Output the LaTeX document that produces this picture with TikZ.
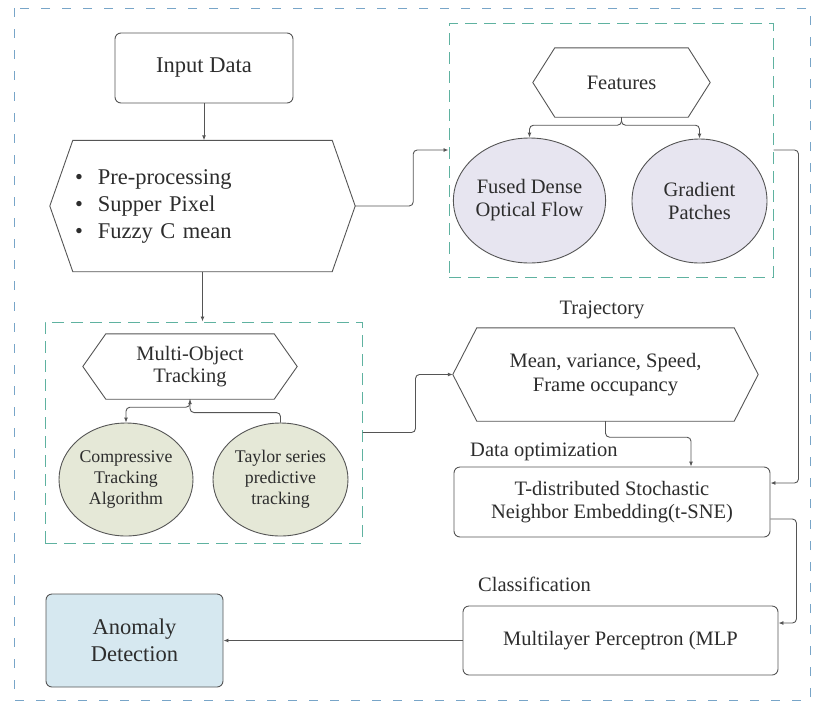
\documentclass[tikz,border=0pt]{standalone}
\usepackage{fontspec}
\setmainfont{Liberation Serif}
\usetikzlibrary{arrows.meta,shapes.geometric}

\definecolor{txtgray}{RGB}{45,45,45}
\definecolor{linegray}{RGB}{85,85,85}
\definecolor{lavfill}{RGB}{231,229,240}
\definecolor{olivefill}{RGB}{229,232,215}
\definecolor{bluefill}{RGB}{214,232,240}
\definecolor{groupgreen}{RGB}{95,178,160}
\definecolor{outerblue}{RGB}{120,165,200}

\newcommand{\drawhex}[2]{%
  \draw[linegray,line width=0.9pt] ([xshift=#2]#1.north west) -- ([xshift=-#2]#1.north east)
    -- (#1.east) -- ([xshift=-#2]#1.south east) -- ([xshift=#2]#1.south west)
    -- (#1.west) -- cycle;}

\begin{document}
\begin{tikzpicture}[x=1pt,y=-1pt,
  every node/.style={text=txtgray,inner sep=0pt},
  box/.style={draw=linegray,line width=0.9pt,rounded corners=6pt},
  hexbox/.style={align=center},
  blob/.style={ellipse,draw=linegray,line width=0.9pt,align=center},
  groupbox/.style={draw=groupgreen,line width=1pt,dash pattern=on 12pt off 7pt},
  arr/.style={draw=linegray,line width=0.9pt,-{Latex[length=5pt,width=4pt]},rounded corners=4pt},
  bigfont/.style={font=\fontsize{22.5}{27}\selectfont},
  midfont/.style={font=\fontsize{20.5}{24}\selectfont},
  smallfont/.style={font=\fontsize{17.8}{21}\selectfont}]
  \useasboundingbox (0,0) rectangle (814,702);

  % Frame
  \draw[outerblue,line width=0.8pt,dash pattern=on 9pt off 12pt] (14,8) rectangle (810,700);

  % Groups
  \node[groupbox,minimum width=324,minimum height=254] (featgrp) at (611,150) {};
  \node[groupbox,minimum width=317,minimum height=221] (motgrp) at (203.5,432.5) {};

  % Left column
  \node[box,bigfont,minimum width=178,minimum height=70] (input) at (204,68) {Input Data};
  \node[bigfont,align=left,text width=255,inner xsep=25pt,minimum height=131] (prep) at (202.5,206)
    {\textbullet\ \ Pre-processing\\\textbullet\ \ Supper Pixel\\\textbullet\ \ Fuzzy C mean};
  \drawhex{prep}{23pt}

  % Features
  \node[hexbox,midfont,minimum width=177,minimum height=69] (feat) at (621.5,82.5) {Features};
  \drawhex{feat}{22pt}
  \node[blob,midfont,fill=lavfill,minimum width=135,minimum height=125] (fdof) at (529.5,200.5)
    {Fused Dense\\[-1pt]Optical Flow};
  \node[blob,midfont,fill=lavfill,minimum width=135,minimum height=124] (grad) at (699.5,201)
    {Gradient\\[-1pt]Patches};

  % Tracking
  \node[hexbox,midfont,minimum width=214,minimum height=65] (mot) at (190,366.5)
    {Multi-Object\\[-2pt]Tracking};
  \drawhex{mot}{23pt}
  \node[blob,smallfont,fill=olivefill,minimum width=134,minimum height=113] (cta) at (126,479.5)
    {Compressive\\Tracking\\Algorithm};
  \node[blob,smallfont,fill=olivefill,minimum width=135,minimum height=113] (tsp) at (280.5,479.5)
    {Taylor series\\predictive\\tracking};

  % Right column
  \node[midfont] (trajlbl) at (602,310) {Trajectory};
  \node[hexbox,midfont,minimum width=305,minimum height=93] (traj) at (605.5,374.5)
    {Mean, variance, Speed,\\Frame occupancy};
  \drawhex{traj}{24pt}
  \node[midfont,anchor=west] (optlbl) at (470,452) {Data optimization};
  \node[box,midfont,align=center,minimum width=316,minimum height=70] (tsne) at (612,502)
    {T-distributed Stochastic\\[-1pt]Neighbor Embedding(t-SNE)};
  \node[midfont,anchor=west] (clslbl) at (478,584) {Classification};
  \node[box,midfont,minimum width=315,minimum height=69] (mlp) at (620.5,640.5)
    {Multilayer Perceptron (MLP};
  \node[box,bigfont,align=center,fill=bluefill,minimum width=177,minimum height=93] (anom) at (134.5,640.5)
    {Anomaly\\Detection};

  % Connectors
  \draw[arr] (input.south) -- (input.south |- prep.north);
  \draw[arr] (prep.south) -- (prep.south |- motgrp.north);
  \draw[arr] (prep.east) -- ++(58,0) |- (featgrp.west);
  \draw[arr] (feat.south) -- ++(0,8) -| (fdof.north);
  \draw[arr] (feat.south) -- ++(0,8) -| (grad.north);
  \draw[arr] (featgrp.east) -- ++(25,0) |- ([yshift=19pt]tsne.east);
  \draw[arr] (mot.south) -- ++(0,8) -| (cta.north);
  \draw[arr] (tsp.north) -- ++(0,-10) -| (mot.south);
  \draw[arr] (motgrp.east) -- ++(53,0) |- (traj.west);
  \draw[arr] (traj.south) -- ++(0,16) -| ([xshift=79pt]tsne.north);
  \draw[arr] ([yshift=-17pt]tsne.east) -- ++(26,0) |- ([yshift=17.5pt]mlp.east);
  \draw[arr] (mlp.west) -- (anom.east);

\end{tikzpicture}
\end{document}
